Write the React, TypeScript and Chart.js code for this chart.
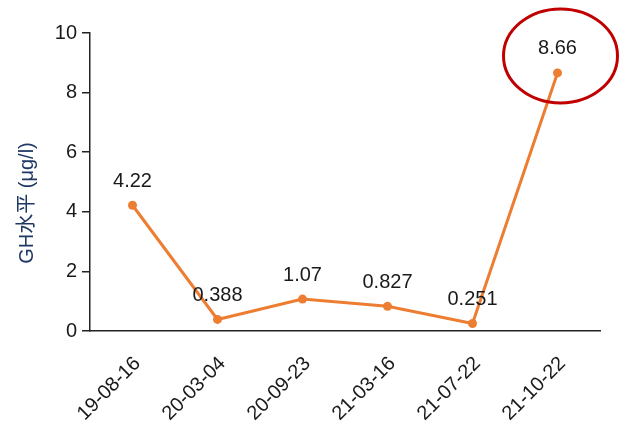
import React, { useEffect, useRef } from "react";
import { Chart, registerables } from "chart.js";

Chart.register(...registerables);

const categories = ["19-08-16", "20-03-04", "20-09-23", "21-03-16", "21-07-22", "21-10-22"];
const ghValues = [4.22, 0.388, 1.07, 0.827, 0.251, 8.66];
const valueLabels = ["4.22", "0.388", "1.07", "0.827", "0.251", "8.66"];
const highlightIndex = 5;
const yTitle = "GH水平 (μg/l)";

const FONT = "'Liberation Sans', Arial, 'Noto Sans CJK SC', sans-serif";

const labelPlugin = {
  id: "valueLabels",
  afterDatasetsDraw(chart: any) {
    const ctx = chart.ctx;
    const meta = chart.getDatasetMeta(0);
    ctx.save();
    ctx.font = `20px ${FONT}`;
    ctx.fillStyle = "#1a1a1a";
    ctx.textAlign = "center";
    ctx.textBaseline = "middle";
    meta.data.forEach((pt: any, i: number) => {
      ctx.fillText(valueLabels[i], pt.x, pt.y - 24);
    });
    const hp = meta.data[highlightIndex];
    if (hp) {
      ctx.beginPath();
      ctx.ellipse(hp.x + 3, hp.y - 17, 57, 47, 0, 0, Math.PI * 2);
      ctx.strokeStyle = "#C00000";
      ctx.lineWidth = 3;
      ctx.stroke();
    }
    // y-axis title
    const area = chart.chartArea;
    ctx.translate(27, (area.top + area.bottom) / 2 + 21);
    ctx.rotate(-Math.PI / 2);
    ctx.font = `20px ${FONT}`;
    ctx.fillStyle = "#1F3864";
    ctx.fillText(yTitle, 0, 0);
    ctx.restore();
  },
};

export default function App() {
  const ref = useRef<HTMLCanvasElement>(null);
  useEffect(() => {
    if (!ref.current) return;
    const chart = new Chart(ref.current, {
      type: "line",
      data: {
        labels: categories,
        datasets: [
          {
            data: ghValues,
            borderColor: "#ED7D31",
            backgroundColor: "#ED7D31",
            borderWidth: 3,
            pointRadius: 4.5,
            pointBackgroundColor: "#ED7D31",
            pointBorderWidth: 0,
            tension: 0,
            clip: false as any,
          },
        ],
      },
      options: {
        responsive: false,
        animation: false,
        layout: { padding: { top: 33, right: 40, left: 0, bottom: 0 } },
        plugins: {
          legend: { display: false },
          tooltip: { enabled: false },
        },
        scales: {
          x: {
            type: "category",
            offset: true,
            grid: { display: false, drawTicks: false },
            border: { display: true, color: "#222", width: 1.5 },
            ticks: {
              color: "#1a1a1a",
              font: { size: 20, family: FONT },
              maxRotation: 45,
              minRotation: 45,
              padding: 21,
              labelOffset: 5,
              autoSkip: false,
            },
            afterFit: (scale: any) => {
              scale.height = 110;
            },
          },
          y: {
            min: 0,
            max: 10,
            grid: { display: true, drawOnChartArea: false, drawTicks: true, tickLength: 8, color: "#222", lineWidth: 1.5 },
            border: { display: true, color: "#222", width: 1.5 },
            ticks: {
              stepSize: 2,
              color: "#1a1a1a",
              font: { size: 20, family: FONT },
              padding: 5,
            },
            afterFit: (scale: any) => {
              scale.width = 90;
            },
          },
        },
      },
      plugins: [labelPlugin],
    });
    return () => chart.destroy();
  }, []);
  return (
    <div style={{ position: "fixed", left: 0, top: 0, width: 640, height: 441, background: "#fff" }}>
      <canvas ref={ref} width={640} height={441} />
    </div>
  );
}
